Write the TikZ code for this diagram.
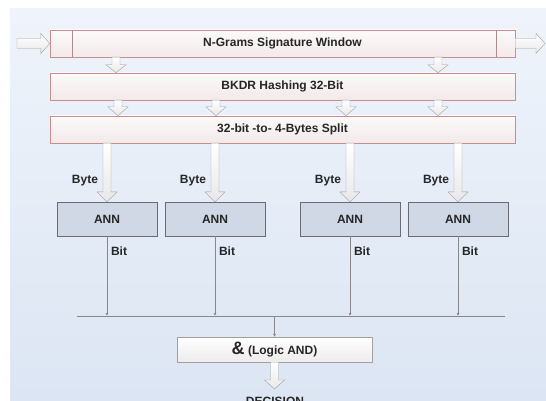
\documentclass[tikz,border=0pt]{standalone}
\usepackage{fontspec}
\setmainfont{Liberation Sans}
\usetikzlibrary{positioning,arrows.meta,calc}
\definecolor{hsBgTop}{RGB}{239,244,251}
\definecolor{hsBgBot}{RGB}{220,229,243}
\definecolor{hsRose}{RGB}{200,142,142}
\definecolor{hsRoseDark}{RGB}{170,140,140}
\definecolor{hsPinkTop}{RGB}{252,250,250}
\definecolor{hsPinkBot}{RGB}{243,233,233}
\definecolor{hsAnn}{RGB}{208,216,230}
\definecolor{hsSlate}{RGB}{105,108,115}
\definecolor{hsGate}{RGB}{236,236,236}
\definecolor{hsGateEdge}{RGB}{160,160,160}
\definecolor{hsArrow}{RGB}{160,160,160}
\definecolor{hsArrowFill}{RGB}{232,232,232}
\definecolor{hsWire}{RGB}{135,135,140}
\definecolor{hsText}{RGB}{38,38,38}
\tikzset{
    base/.style={font=\fontsize{12}{14}\selectfont\bfseries, text=hsText, align=center},
    stage/.style={base, rectangle, draw=hsRose, top color=hsPinkTop, bottom color=hsPinkBot,
                  minimum width=465pt, minimum height=27pt, inner sep=0pt},
    ann/.style={base, rectangle, draw=hsSlate, fill=hsAnn,
                minimum width=100pt, minimum height=34pt, inner sep=0pt},
    gate/.style={base, rectangle, draw=hsGateEdge, top color=white, bottom color=hsGate,
                 minimum width=195pt, minimum height=25pt, inner sep=0pt},
    hollow/.style={draw=hsArrow, top color=white, bottom color=hsArrowFill},
    wire/.style={-{Latex[length=3pt,width=3pt]}, draw=hsWire, line width=0.6pt},
    tag/.style={base, inner sep=0pt}
}
% hollow block arrow pointing down: x, from, to, head length
\newcommand{\fatdown}[4]{%
  \draw[hollow] (#1-4,0 |- #2) -- (#1+4,0 |- #2)
    -- ($(#1+4,0 |- #3)+(0,-#4)$) -- ($(#1+10,0 |- #3)+(0,-#4)$)
    -- (#1,0 |- #3) -- ($(#1-10,0 |- #3)+(0,-#4)$)
    -- ($(#1-4,0 |- #3)+(0,-#4)$) -- cycle;}
% hollow block arrow pointing right: from, to
\newcommand{\fatright}[2]{%
  \draw[hollow] ($(#1)+(0,-5)$) -- ($(#2)+(-9,-5)$) -- ($(#2)+(-9,-10)$)
    -- (#2) -- ($(#2)+(-9,10)$) -- ($(#2)+(-9,5)$) -- ($(#1)+(0,5)$) -- cycle;}

\begin{document}
\begin{tikzpicture}[x=1pt, y=-1pt]
  \useasboundingbox (0,0) rectangle (546,401);
  % Backdrop
  \fill[white] (0,0) rectangle (546,401);
  \fill[top color=hsBgTop, bottom color=hsBgBot] (10,9) rectangle (546,401);

  % Stages
  \node[stage] (ngram) at (282.5,43.5) {N-Grams Signature Window};
  \node[stage] (bkdr) at (282.5,86.5) {BKDR Hashing 32-Bit};
  \node[stage] (split) at (282.5,129.5) {32-bit -to- 4-Bytes Split};
  \draw[hsRoseDark] ([xshift=22pt]ngram.north west) -- ([xshift=22pt]ngram.south west);
  \draw[hsRoseDark] ([xshift=-19pt]ngram.north east) -- ([xshift=-19pt]ngram.south east);

  % Window in / out
  \coordinate (inlet) at (17,43.5);
  \coordinate (outlet) at (545,43.5);
  \fatright{inlet}{ngram.west}
  \fatright{ngram.east}{outlet}

  % Between stages
  \foreach \x in {116,438} {\fatdown{\x}{ngram.south}{bkdr.north}{8}}
  \foreach \x in {118,216,346,438} {\fatdown{\x}{bkdr.south}{split.north}{9}}

  % ANN per byte
  \foreach \x/\n in {107/1,215/2,350/3,458/4} {
    \node[ann] (ann\n) at (\x,219) {ANN};
    \fatdown{\x}{split.south}{ann\n.north}{10}
    \node[tag] (byte\n) at (\x-22,181) {Byte};
    \node[tag] (bit\n) at (\x+12,251) {Bit};
  }

  % Bus into AND
  \coordinate (busL) at (77,316);
  \coordinate (busR) at (505,316);
  \draw[hsWire, line width=0.6pt] (busL) -- (busR);
  \foreach \n in {1,...,4} {\draw[wire] (ann\n.south) -- (ann\n.south |- busL);}
  \node[gate] (gate) at (274.5,349.5) {{\fontsize{18}{18}\selectfont\&} (Logic AND)};
  \draw[wire] (gate.north |- busL) -- (gate.north);

  % Decision
  \coordinate (decide) at (274.5,389);
  \fatdown{274.5}{gate.south}{decide}{9}
  \node[tag, anchor=base] (decision) at (275,405) {DECISION};
\end{tikzpicture}
\end{document}
